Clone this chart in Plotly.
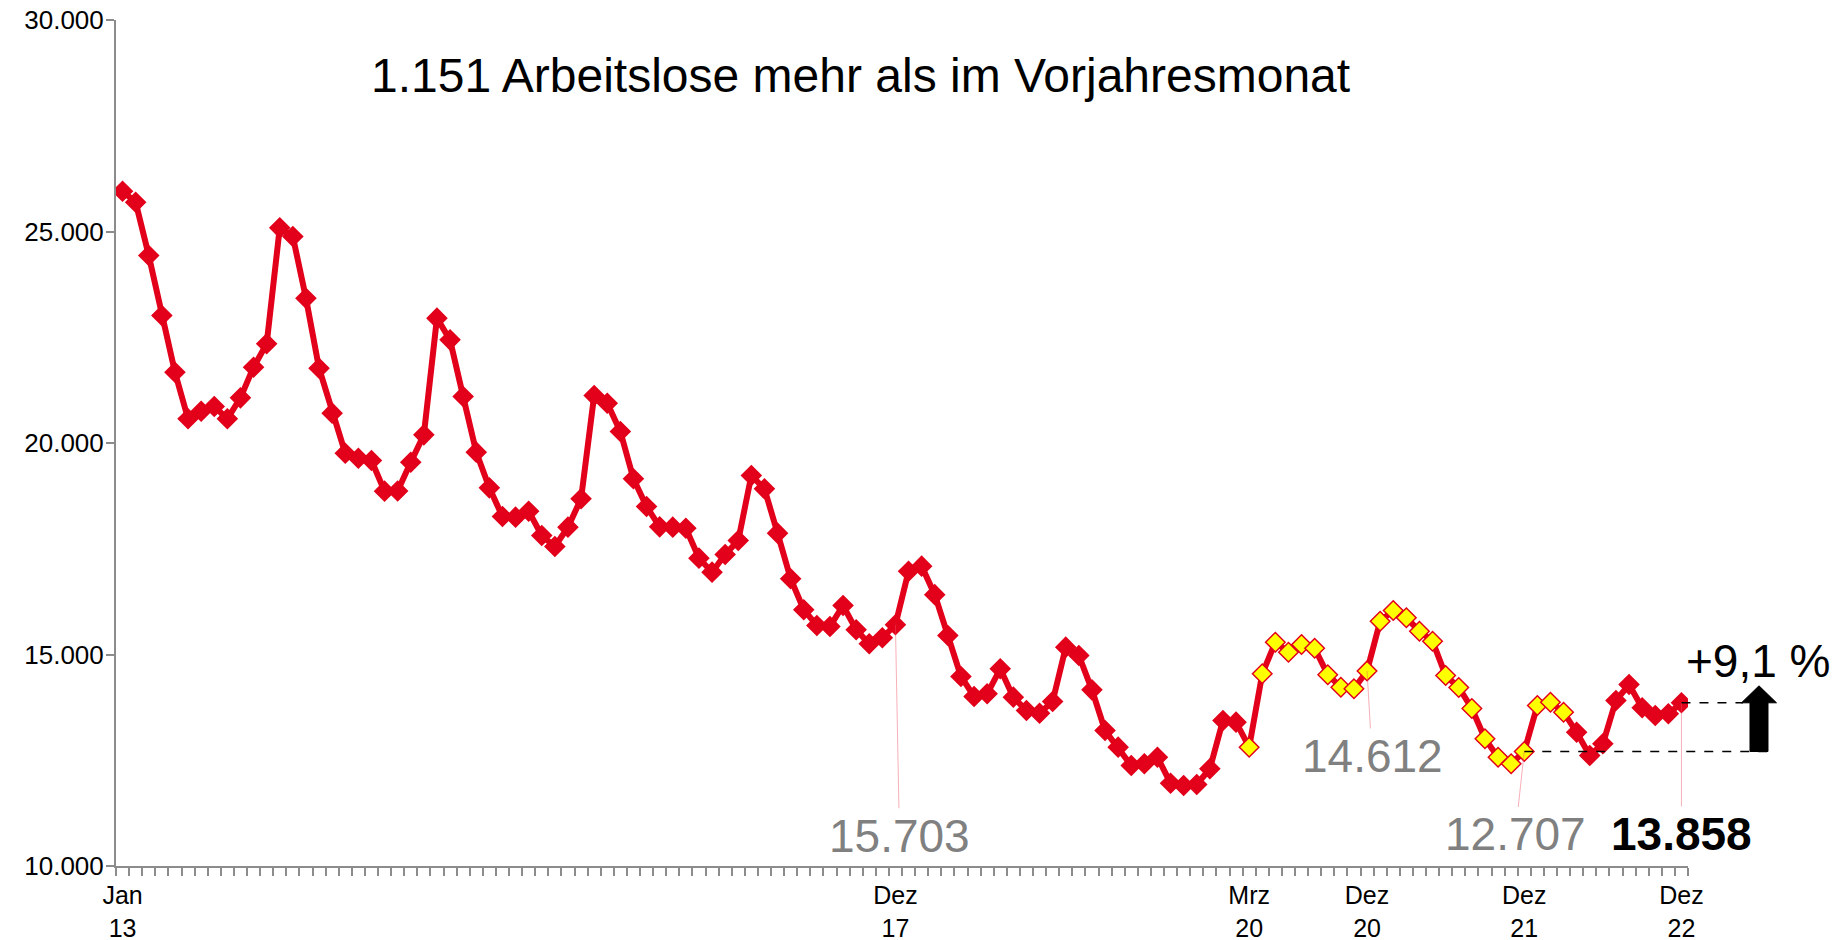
import plotly.graph_objects as go

# ---------------- data ----------------
month_names = ["Jan", "Feb", "Mrz", "Apr", "Mai", "Jun", "Jul", "Aug", "Sep", "Okt", "Nov", "Dez"]
years = list(range(2013, 2023))
months = [f"{m} {str(y)[2:]}" for y in years for m in month_names]

arbeitslose_2013 = [25953, 25693, 24433, 23014, 21674, 20572, 20752, 20863, 20572, 21068, 21792, 22345]
arbeitslose_2014 = [25087, 24882, 23423, 21768, 20705, 19759, 19641, 19586, 18861, 18865, 19546, 20193]
arbeitslose_2015 = [22951, 22439, 21099, 19783, 18940, 18262, 18247, 18388, 17813, 17553, 18010, 18681]
arbeitslose_2016 = [21123, 20941, 20272, 19154, 18499, 18018, 18010, 17986, 17277, 16946, 17364, 17695]
arbeitslose_2017 = [19232, 18917, 17868, 16790, 16057, 15686, 15662, 16158, 15584, 15253, 15395, 15703]
arbeitslose_2018 = [16969, 17088, 16415, 15449, 14480, 14007, 14071, 14662, 13991, 13676, 13612, 13889]
arbeitslose_2019 = [15173, 14976, 14165, 13203, 12809, 12376, 12416, 12572, 11957, 11903, 11927, 12298]
arbeitslose_2020 = [13440, 13400, 12809, 14544, 15291, 15054, 15236, 15149, 14520, 14227, 14189, 14612]
arbeitslose_2021 = [15787, 16040, 15868, 15551, 15314, 14504, 14220, 13723, 13007, 12572, 12416, 12707]
arbeitslose_2022 = [13794, 13872, 13636, 13163, 12612, 12889, 13913, 14291, 13740, 13558, 13598, 13858]

arbeitslose = (arbeitslose_2013 + arbeitslose_2014 + arbeitslose_2015 + arbeitslose_2016 +
               arbeitslose_2017 + arbeitslose_2018 + arbeitslose_2019 + arbeitslose_2020 +
               arbeitslose_2021 + arbeitslose_2022)

# period drawn with yellow markers
corona_start = "Mrz 20"
corona_end = "Mrz 22"

# x tick labels shown
shown_ticks = ["Jan 13", "Dez 17", "Mrz 20", "Dez 20", "Dez 21", "Dez 22"]

# labelled values
grey_labels = ["Dez 17", "Dez 20", "Dez 21"]
current_label = "Dez 22"
previous_label = "Dez 21"

title_text = "1.151 Arbeitslose mehr als im Vorjahresmonat"
change_text = "+9,1 %"

# ---------------- styling ----------------
RED = "#E2001A"
YELLOW = "#FFFF00"
GREY = "#808080"
AXIS = "#8C8C8C"
LEADER = "rgba(240,80,100,0.45)"
FONT = "Liberation Sans, Arial, sans-serif"

W, H = 1841, 940
# plot area in page pixels
PX0, PX1 = 116, 1688
PY0, PY1 = 20, 866
ML, MT = PX0, PY0
MR, MB = W - PX1, H - PY1
PW, PH = PX1 - PX0, PY1 - PY0
Y0, Y1 = 10000, 30000


def px_x(px):
    return (px - PX0) / PW


def px_y(py):
    return (PY1 - py) / PH


def val_y(v):
    return (v - Y0) / (Y1 - Y0)


def cat_x(label):
    return (months.index(label) + 0.5) / len(months)


i0, i1 = months.index(corona_start), months.index(corona_end)
fill_colors = [YELLOW if i0 <= i <= i1 else RED for i in range(len(months))]

fig = go.Figure()
fig.add_trace(go.Scatter(
    x=months, y=arbeitslose, mode="lines+markers",
    line=dict(color=RED, width=6),
    marker=dict(symbol="diamond", size=15, color=fill_colors,
                line=dict(color=RED, width=1.5)),
    showlegend=False, hoverinfo="x+y",
))

ticktext = []
for m in months:
    if m in shown_ticks:
        a, b = m.split(" ")
        ticktext.append(f"{a}<br>{b}")
    else:
        ticktext.append("")

fig.update_xaxes(
    type="category", range=[-0.5, len(months) - 0.5],
    tickmode="array", tickvals=months, ticktext=ticktext,
    tickson="boundaries", ticks="outside", ticklen=8, tickwidth=1.5, tickcolor=AXIS,
    showline=True, linecolor=AXIS, linewidth=2, showgrid=False, zeroline=False,
    tickfont=dict(family=FONT, size=25, color="black"), tickangle=0,
    ticklabelstandoff=6, ticklabeloverflow="allow",
)
fig.update_yaxes(
    range=[Y0, Y1], tickmode="array", tickvals=list(range(Y0, Y1 + 1, 5000)),
    tickformat=",d", ticks="outside", ticklen=8, tickwidth=1.5, tickcolor=AXIS,
    showline=True, linecolor=AXIS, linewidth=2, showgrid=False, zeroline=False,
    tickfont=dict(family=FONT, size=26, color="black"),
    ticklabeloverflow="allow", ticklabelstandoff=-3,
)

annotations = []
# value labels with leader lines
label_offsets = {"Dez 17": (4, 211), "Dez 20": (5, 85), "Dez 21": (-9, 83), "Dez 22": (0, 131)}
for lab in grey_labels + [current_label]:
    v = arbeitslose[months.index(lab)]
    txt = f"{v:,}".replace(",", ".")
    bold = lab == current_label
    ax, ay = label_offsets[lab]
    annotations.append(dict(
        x=lab, y=v, xref="x", yref="y", ax=ax, ay=ay,
        text=f"<b>{txt}</b>" if bold else txt,
        font=dict(family=FONT, size=46, color="black" if bold else GREY),
        showarrow=True, arrowhead=0, arrowwidth=1, arrowcolor=LEADER, standoff=0,
    ))

# title
annotations.append(dict(
    x=px_x(860), y=px_y(76), xref="paper", yref="paper", text=title_text,
    showarrow=False, font=dict(family=FONT, size=48, color="black"),
    xanchor="center", yanchor="middle",
))
# percentage change
annotations.append(dict(
    x=px_x(1758), y=px_y(661), xref="paper", yref="paper", text=change_text,
    showarrow=False, font=dict(family=FONT, size=46, color="black"),
    xanchor="center", yanchor="middle",
))

v_prev = arbeitslose[months.index(previous_label)]
v_cur = arbeitslose[months.index(current_label)]

shapes = [
    dict(type="line", xref="paper", yref="paper",
         x0=cat_x(previous_label), x1=px_x(1767), y0=val_y(v_prev), y1=val_y(v_prev),
         line=dict(color="black", width=1.5, dash="dash"), layer="above"),
    dict(type="line", xref="paper", yref="paper",
         x0=cat_x(current_label), x1=px_x(1743), y0=val_y(v_cur), y1=val_y(v_cur),
         line=dict(color="black", width=1.5, dash="dash"), layer="above"),
]

# up arrow
xc = 1759
shaft_half, head_half, head_len = 9, 17.5, 17
yb, yh = val_y(v_prev), val_y(v_cur)
yt = yh + head_len / PH
pts = [
    (px_x(xc - shaft_half), yb), (px_x(xc + shaft_half), yb),
    (px_x(xc + shaft_half), yh), (px_x(xc + head_half), yh),
    (px_x(xc), yt), (px_x(xc - head_half), yh),
    (px_x(xc - shaft_half), yh),
]
path = "M " + " L ".join(f"{x:.5f},{y:.5f}" for x, y in pts) + " Z"
shapes.append(dict(type="path", xref="paper", yref="paper", path=path,
                   fillcolor="black", line=dict(color="black", width=1), layer="above"))

fig.update_layout(
    width=W, height=H, margin=dict(l=ML, r=MR, t=MT, b=MB, autoexpand=False),
    paper_bgcolor="white", plot_bgcolor="white",
    separators=",.", font=dict(family=FONT),
    annotations=annotations, shapes=shapes,
)

# the page body has a default 8px margin; remove it so the figure fills the window
fig.write_html(
    "out.html",
    config={"displayModeBar": False},
    post_script="document.body.style.margin='0';document.body.style.overflow='hidden';",
)
